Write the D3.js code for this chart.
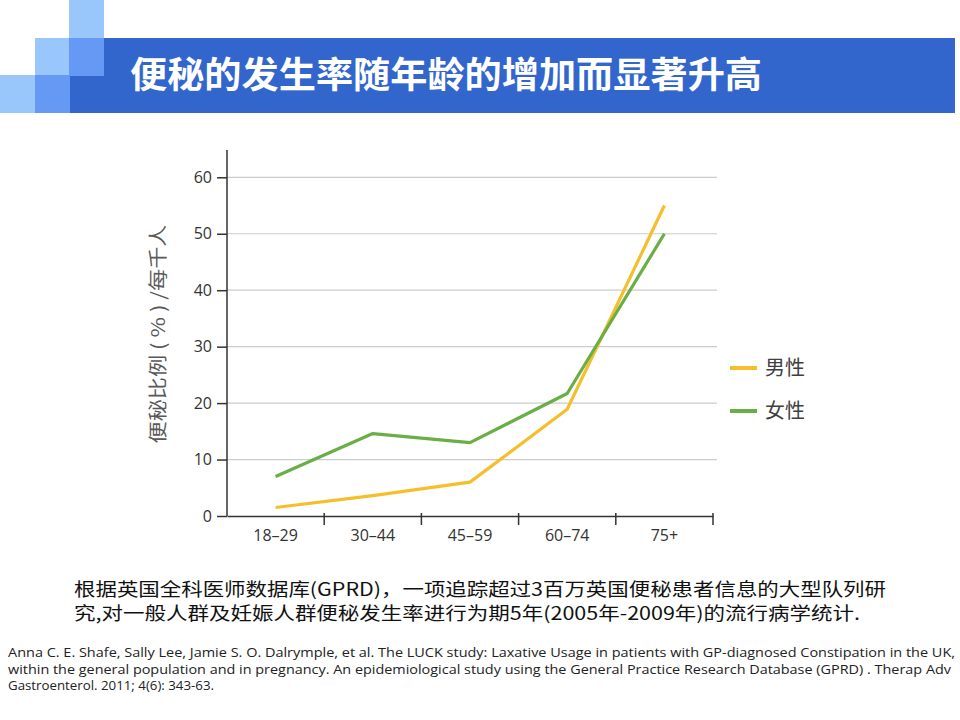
<!DOCTYPE html>
<html lang="zh">
<head>
<meta charset="utf-8">
<script src="https://cdn.jsdelivr.net/npm/d3@7"></script>
<style>
  body { margin: 0; background: #fff; }
  svg { display: block; }
</style>
</head>
<body>
<div id="chart"></div>
<script>
  // data
  const ageGroups = ["18–29", "30–44", "45–59", "60–74", "75+"];
  const maleValues = [1.5, 3.6, 6.0, 18.9, 55.0];
  const femaleValues = [7.0, 14.6, 13.0, 21.7, 50.0];
  const yTicks = [0, 10, 20, 30, 40, 50, 60];
  const seriesNames = ["男性", "女性"];
  const seriesColors = ["#f5bf2c", "#6aae46"];

  const titleText = "便秘的发生率随年龄的增加而显著升高";
  const yLabel = "便秘比例 ( % ) /每千人";
  const noteLines = [
    "根据英国全科医师数据库(GPRD)，一项追踪超过3百万英国便秘患者信息的大型队列研",
    "究,对一般人群及妊娠人群便秘发生率进行为期5年(2005年-2009年)的流行病学统计."
  ];
  const refLines = [
    "Anna C. E. Shafe, Sally Lee, Jamie S. O. Dalrymple, et al. The LUCK study: Laxative Usage in patients with GP-diagnosed Constipation in the UK,",
    "within the general population and in pregnancy. An epidemiological study using the General Practice Research Database (GPRD) . Therap Adv",
    "Gastroenterol. 2011; 4(6): 343-63."
  ];

  const W = 960, H = 720;
  const cjk = "'Noto Sans CJK SC', 'Noto Sans', sans-serif";
  const latin = "'Open Sans', 'Noto Sans', sans-serif";

  const svg = d3.select("#chart").append("svg")
    .attr("width", W).attr("height", H);

  // header squares + banner
  const squares = [
    { x: 69, y: 0, c: "#99c7fb" },
    { x: 35, y: 38, c: "#99c7fb" },
    { x: 69, y: 38, c: "#6699f4" },
    { x: 0, y: 75, c: "#99c7fb" },
    { x: 35, y: 75, c: "#6699f4" }
  ];
  svg.append("rect")
    .attr("x", 69).attr("y", 38).attr("width", 886).attr("height", 75)
    .attr("fill", "#3366cc");
  svg.selectAll("rect.sq").data(squares).enter().append("rect")
    .attr("class", "sq")
    .attr("x", d => d.x).attr("y", d => d.y)
    .attr("width", 35).attr("height", 38)
    .attr("fill", d => d.c);

  svg.append("text")
    .attr("x", 130).attr("y", 88)
    .attr("font-family", cjk).attr("font-weight", "bold")
    .attr("font-size", 36).attr("fill", "#fff")
    .attr("textLength", 632).attr("lengthAdjust", "spacingAndGlyphs")
    .text(titleText);

  // chart area
  const left = 227, right = 713, bottom = 516;

  const x = d3.scaleBand().domain(ageGroups).range([left, right]).padding(0);
  const y = d3.scaleLinear().domain([0, 60]).range([bottom, 177.3]);
  const yTop = y.invert(150);

  // gridlines
  svg.append("g")
    .selectAll("line")
    .data(yTicks.filter(d => d > 0))
    .enter().append("line")
    .attr("x1", left).attr("x2", 717)
    .attr("y1", d => y(d)).attr("y2", d => y(d))
    .attr("stroke", "#cccccc").attr("stroke-width", 1.2);

  // y axis
  svg.append("g")
    .attr("transform", `translate(${left},0)`)
    .call(d3.axisLeft(y.copy().domain([0, yTop]).range([bottom, 150])).tickValues(yTicks).tickSize(10).tickPadding(5))
    .call(g => g.select(".domain").attr("stroke", "#333").attr("stroke-width", 1.5).attr("d", `M0,${bottom}V150`))
    .call(g => g.selectAll(".tick line").attr("stroke", "#333").attr("stroke-width", 1.5))
    .call(g => g.selectAll("text")
      .attr("font-family", latin).attr("font-size", 16).attr("fill", "#333"));

  // x axis line and boundary ticks
  const xg = svg.append("g").attr("transform", `translate(0,${bottom})`);
  xg.call(d3.axisBottom(x).tickSize(0).tickPadding(14))
    .call(g => g.select(".domain").attr("stroke", "#333").attr("stroke-width", 1.5))
    .call(g => g.selectAll("text")
      .attr("font-family", latin).attr("font-size", 16).attr("fill", "#333"));
  xg.append("g").selectAll("line")
    .data(ageGroups.map(d => x(d) + x.bandwidth()))
    .enter().append("line")
    .attr("x1", d => d).attr("x2", d => d)
    .attr("y1", -3).attr("y2", 9)
    .attr("stroke", "#333").attr("stroke-width", 1.5);

  // y label
  svg.append("text")
    .attr("transform", "translate(165,334) rotate(-90)")
    .attr("text-anchor", "middle")
    .attr("font-family", cjk).attr("font-size", 19).attr("fill", "#595959")
    .attr("textLength", 219).attr("lengthAdjust", "spacingAndGlyphs")
    .text(yLabel);

  // lines
  const series = [maleValues, femaleValues];
  const line = d3.line()
    .x((d, i) => x(ageGroups[i]) + x.bandwidth() / 2)
    .y(d => y(d));

  svg.append("g").selectAll("path")
    .data(series)
    .enter().append("path")
    .attr("d", d => line(d))
    .attr("fill", "none")
    .attr("stroke", (d, i) => seriesColors[i])
    .attr("stroke-width", 3.2)
    .attr("stroke-linejoin", "round");

  // legend
  const legend = svg.append("g").selectAll("g")
    .data(seriesNames)
    .enter().append("g")
    .attr("transform", (d, i) => `translate(730,${368 + i * 43})`);
  legend.append("line")
    .attr("x1", 0).attr("x2", 27).attr("y1", 0).attr("y2", 0)
    .attr("stroke", (d, i) => seriesColors[i]).attr("stroke-width", 4);
  legend.append("text")
    .attr("x", 35).attr("y", 7)
    .attr("font-family", cjk).attr("font-size", 20).attr("fill", "#404040")
    .text(d => d);

  // note text
  svg.append("g").selectAll("text")
    .data(noteLines)
    .enter().append("text")
    .attr("x", 74).attr("y", (d, i) => 596 + i * 24)
    .attr("font-family", cjk).attr("font-size", 18).attr("fill", "#111")
    .attr("textLength", (d, i) => i === 0 ? 812 : 786)
    .attr("lengthAdjust", "spacingAndGlyphs")
    .text(d => d);

  // reference text
  svg.append("g").selectAll("text")
    .data(refLines)
    .enter().append("text")
    .attr("x", 8).attr("y", (d, i) => 657 + i * 16.5)
    .attr("font-family", latin).attr("font-size", 12.5).attr("fill", "#222")
    .attr("textLength", (d, i) => [947, 943, 206][i])
    .attr("lengthAdjust", "spacingAndGlyphs")
    .text(d => d);
</script>
</body>
</html>
